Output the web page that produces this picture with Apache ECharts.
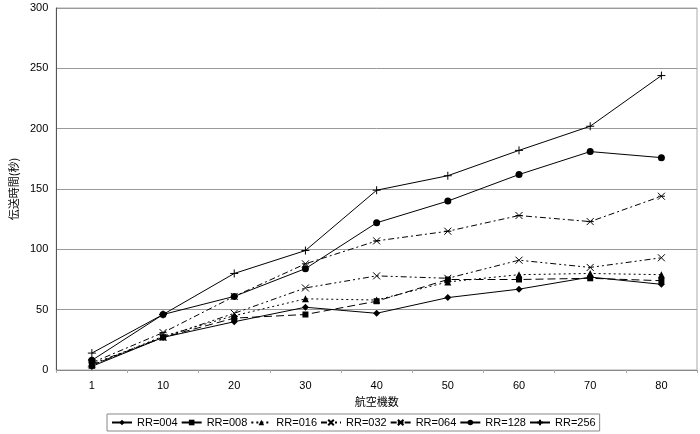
<!DOCTYPE html>
<html><head><meta charset="utf-8">
<script src="https://cdn.jsdelivr.net/npm/echarts@6/dist/echarts.min.js"></script>
<style>html,body{margin:0;padding:0;background:#fff}#c{width:700px;height:434px}</style>
</head><body><div id="c"></div>
<script>
const categories = ['1','10','20','30','40','50','60','70','80'];
const seriesNames = ['RR=004','RR=008','RR=016','RR=032','RR=064','RR=128','RR=256'];
const rr004 = [3, 27, 40, 52, 47, 60, 67, 77, 71];
const rr008 = [4, 27, 43, 46, 57, 75, 75, 76, 74];
const rr016 = [4, 28, 45, 59, 58, 73, 79, 80, 79];
const rr032 = [5, 27, 47, 68, 78, 76, 91, 85, 93];
const rr064 = [6, 31, 61, 88, 107, 115, 128, 123, 144];
const rr128 = [8, 46, 61, 84, 122, 140, 162, 181, 176];
const rr256 = [14, 46, 80, 99, 149, 161, 182, 202, 244];
const yTicks = [0, 50, 100, 150, 200, 250, 300];

const values = [rr004, rr008, rr016, rr032, rr064, rr128, rr256];
const symbols = ['diamond', 'rect', 'triangle',
  'path://M0,0L10,10M10,0L0,10',
  'path://M0,0L10,10M10,0L0,10M0,5L10,5',
  'circle',
  'path://M5,0L5,10M0,5L10,5'];
const sizes = [7, 6, 7, 7, 7, 7, 8];
const dashes = ['solid', [8,4], [2,3], [6,3,2,3,2,3], [6,3,2,3], 'solid', 'solid'];
const stroked = [false,false,false,true,true,false,true];

const chart = echarts.init(document.getElementById('c'));
chart.setOption({
  animation: false,
  textStyle: {fontFamily: 'Liberation Sans, "Noto Sans CJK JP", sans-serif'},
  grid: {left: 44, right: 3, top: 8, bottom: 64, show: true, borderColor: '#aaa', borderWidth: 1},
  legend: {
    bottom: 3, left: 107,
    data: seriesNames,
    itemWidth: 20, itemHeight: 7, itemGap: 3,
    borderColor: '#888', borderWidth: 1, padding: [3, 4],
    textStyle: {fontSize: 11, color: '#000', fontFamily: 'Liberation Sans, sans-serif'}
  },
  xAxis: {
    type: 'category', data: categories,
    name: '航空機数', nameLocation: 'middle', nameGap: 19,
    nameTextStyle: {fontSize: 11, color: '#000', fontFamily: '"Noto Sans CJK JP"'},
    axisLine: {lineStyle: {color: '#888'}},
    axisTick: {show: true, length: 3, lineStyle: {color: '#aaa'}},
    axisLabel: {color: '#000', fontSize: 11, margin: 10}
  },
  yAxis: {
    type: 'value', min: 0, max: 300, interval: 50,
    name: '伝送時間(秒)', nameLocation: 'middle', nameGap: 26, nameRotate: 90,
    nameTextStyle: {fontSize: 11, color: '#000', fontFamily: '"Noto Sans CJK JP"'},
    axisLine: {show: true, lineStyle: {color: '#555'}},
    axisTick: {show: false},
    axisLabel: {color: '#000', fontSize: 11, margin: 8,
      formatter: v => yTicks.includes(v) ? String(v) : ''},
    splitLine: {lineStyle: {color: '#999', width: 1}}
  },
  series: seriesNames.map((n, i) => ({
    name: n, type: 'line', data: values[i],
    symbol: symbols[i], symbolSize: sizes[i], showAllSymbol: true,
    lineStyle: {color: '#000', width: 1, type: dashes[i]},
    itemStyle: stroked[i] ? {color: 'none', borderColor: '#000', borderWidth: 1}
                          : {color: '#000', borderColor: '#000', borderWidth: 0}
  }))
});
</script></body></html>
